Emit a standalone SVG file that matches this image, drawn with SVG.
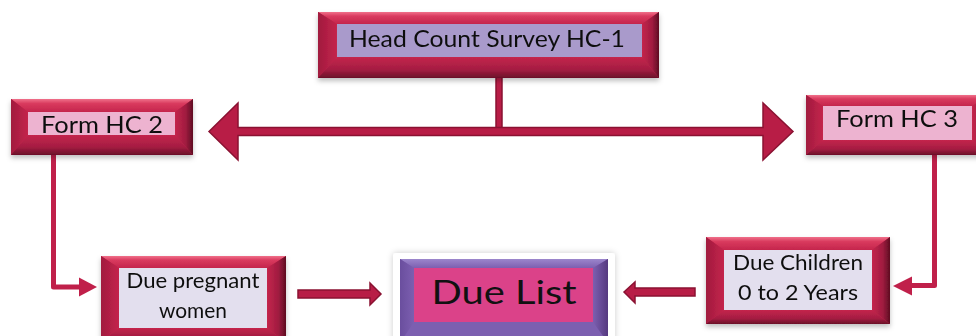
<svg xmlns="http://www.w3.org/2000/svg" width="976" height="336" viewBox="0 0 976 336">
  <defs>
    <linearGradient id="bevTop" x1="0" y1="0" x2="0" y2="1">
      <stop offset="0" stop-color="#F0708A"/>
      <stop offset="0.35" stop-color="#D93A5E"/>
      <stop offset="1" stop-color="#C4254C"/>
    </linearGradient>
    <linearGradient id="bevLeft" x1="0" y1="0" x2="1" y2="0">
      <stop offset="0" stop-color="#A11A3E"/>
      <stop offset="1" stop-color="#C4254C"/>
    </linearGradient>
    <linearGradient id="bevRight" x1="0" y1="0" x2="1" y2="0">
      <stop offset="0" stop-color="#C4254C"/>
      <stop offset="0.6" stop-color="#A01C40"/>
      <stop offset="1" stop-color="#5E0C22"/>
    </linearGradient>
    <linearGradient id="bevBottom" x1="0" y1="0" x2="0" y2="1">
      <stop offset="0" stop-color="#C4254C"/>
      <stop offset="0.6" stop-color="#A51D42"/>
      <stop offset="1" stop-color="#6A1028"/>
    </linearGradient>
    <linearGradient id="pTop" x1="0" y1="0" x2="0" y2="1">
      <stop offset="0" stop-color="#9C86CC"/>
      <stop offset="1" stop-color="#7C5FB0"/>
    </linearGradient>
    <linearGradient id="pLeft" x1="0" y1="0" x2="1" y2="0">
      <stop offset="0" stop-color="#6A4E9E"/>
      <stop offset="1" stop-color="#7C5FB0"/>
    </linearGradient>
    <linearGradient id="pRight" x1="0" y1="0" x2="1" y2="0">
      <stop offset="0" stop-color="#7C5FB0"/>
      <stop offset="1" stop-color="#55397F"/>
    </linearGradient>
    <filter id="shadow" x="-10%" y="-10%" width="120%" height="140%">
      <feDropShadow dx="0" dy="3" stdDeviation="2.5" flood-color="#000" flood-opacity="0.25"/>
    </filter>
    <filter id="glow" x="-10%" y="-20%" width="120%" height="140%">
      <feDropShadow dx="0" dy="0" stdDeviation="3" flood-color="#000" flood-opacity="0.2"/>
    </filter>
  </defs>
  <style>
    .face { fill: #C4254C; }
    .top { fill: url(#bevTop); }
    .left { fill: url(#bevLeft); }
    .right { fill: url(#bevRight); }
    .bottom { fill: url(#bevBottom); }
    .lav { fill: #A99ACB; }
    .pink { fill: #EDB3D0; }
    .pale { fill: #E3DFEE; }
    .label { font-family: Lato, "Open Sans", "Liberation Sans", sans-serif; fill: #111; }
    .wire { fill: none; stroke: #C0204A; stroke-width: 5; stroke-linejoin: round; }
    .head { fill: #C0204A; }
    .block { fill: #B81D46; stroke: #8A1232; stroke-width: 1.5; stroke-linejoin: miter; }
    .bar { fill: #B81D46; stroke: #8A1232; stroke-width: 1.5; }
  </style>

  <rect width="976" height="336" fill="#FFFFFF"/>

  <!-- connectors -->
  <g id="connectors">
    <rect class="bar" x="496" y="76" width="6" height="55"/>
    <polygon class="block" points="209,131.5 238,103 238,127.5 763,127.5 763,103 793,131.5 763,160 763,135.5 238,135.5 238,160"/>
    <path class="wire" d="M53.5,155 V287 H84"/>
    <polygon class="head" points="79,277.5 97,287 79,296.5"/>
    <path class="wire" d="M934.5,155 V285.5 H908"/>
    <polygon class="head" points="912,276.5 893,286 912,295.5"/>
    <polygon class="block" points="298,290 370,290 370,283 381,294 370,305 370,298 298,298"/>
    <polygon class="block" points="695,288 635,288 635,282 624,292 635,303 635,296 695,296"/>
  </g>

  <!-- Head Count Survey HC-1 -->
  <g id="hc1" filter="url(#shadow)">
    <rect class="face" x="318" y="12" width="341" height="66"/>
    <polygon class="top" points="318,12 659,12 642,24 337,24"/>
    <polygon class="left" points="318,12 337,24 337,57 318,78"/>
    <polygon class="right" points="659,12 659,78 642,57 642,24"/>
    <polygon class="bottom" points="318,78 337,57 642,57 659,78"/>
    <rect class="lav" x="337" y="24" width="305" height="33"/>
    <text class="label" x="487" y="47" font-size="24" text-anchor="middle" textLength="276" lengthAdjust="spacingAndGlyphs">Head Count Survey HC-1</text>
  </g>

  <!-- Form HC 2 -->
  <g id="hc2" filter="url(#shadow)">
    <rect class="face" x="11" y="99" width="182" height="56"/>
    <polygon class="top" points="11,99 193,99 175,112 28,112"/>
    <polygon class="left" points="11,99 28,112 28,135 11,155"/>
    <polygon class="right" points="193,99 193,155 175,135 175,112"/>
    <polygon class="bottom" points="11,155 28,135 175,135 193,155"/>
    <rect class="pink" x="28" y="112" width="147" height="23"/>
    <text class="label" x="102" y="133" font-size="24" text-anchor="middle" textLength="122" lengthAdjust="spacingAndGlyphs">Form HC 2</text>
  </g>

  <!-- Form HC 3 -->
  <g id="hc3" filter="url(#shadow)">
    <rect class="face" x="806" y="95" width="184" height="60"/>
    <polygon class="top" points="806,95 990,95 972,106 823,106"/>
    <polygon class="left" points="806,95 823,106 823,140 806,155"/>
    <polygon class="right" points="990,95 990,155 972,140 972,106"/>
    <polygon class="bottom" points="806,155 823,140 972,140 990,155"/>
    <rect class="pink" x="823" y="106" width="149" height="34"/>
    <text class="label" x="897" y="127" font-size="24" text-anchor="middle" textLength="122" lengthAdjust="spacingAndGlyphs">Form HC 3</text>
  </g>

  <!-- Due pregnant women -->
  <g id="pregnant" filter="url(#shadow)">
    <rect class="face" x="101" y="256" width="185" height="86"/>
    <polygon class="top" points="101,256 286,256 267,268 119,268"/>
    <polygon class="left" points="101,256 119,268 119,328 101,342"/>
    <polygon class="right" points="286,256 286,342 267,328 267,268"/>
    <polygon class="bottom" points="101,342 119,328 267,328 286,342"/>
    <rect class="pale" x="119" y="268" width="148" height="60"/>
    <text class="label" x="193" y="288" font-size="21" text-anchor="middle" textLength="133" lengthAdjust="spacingAndGlyphs">Due pregnant</text>
    <text class="label" x="193" y="318" font-size="21" text-anchor="middle" textLength="68" lengthAdjust="spacingAndGlyphs">women</text>
  </g>

  <!-- Due Children 0 to 2 Years -->
  <g id="children" filter="url(#shadow)">
    <rect class="face" x="706" y="237" width="184" height="87"/>
    <polygon class="top" points="706,237 890,237 872,250 724,250"/>
    <polygon class="left" points="706,237 724,250 724,310 706,324"/>
    <polygon class="right" points="890,237 890,324 872,310 872,250"/>
    <polygon class="bottom" points="706,324 724,310 872,310 890,324"/>
    <rect class="pale" x="724" y="250" width="148" height="60"/>
    <text class="label" x="798" y="270" font-size="21" text-anchor="middle" textLength="130" lengthAdjust="spacingAndGlyphs">Due Children</text>
    <text class="label" x="798" y="300" font-size="21" text-anchor="middle" textLength="120" lengthAdjust="spacingAndGlyphs">0 to 2 Years</text>
  </g>

  <!-- Due List -->
  <g id="duelist">
    <rect x="393" y="253" width="222" height="90" rx="3" fill="#FFFFFF" filter="url(#glow)"/>
    <rect x="400" y="259" width="208" height="84" fill="#7C5FB0"/>
    <polygon fill="url(#pTop)" points="400,259 608,259 593,268 414,268"/>
    <polygon fill="url(#pLeft)" points="400,259 414,268 414,322 400,343"/>
    <polygon fill="url(#pRight)" points="608,259 608,343 593,322 593,268"/>
    <rect x="414" y="268" width="179" height="54" fill="#DB4289"/>
    <text class="label" x="504" y="304" font-size="33" text-anchor="middle" textLength="145" lengthAdjust="spacingAndGlyphs">Due List</text>
  </g>
</svg>
